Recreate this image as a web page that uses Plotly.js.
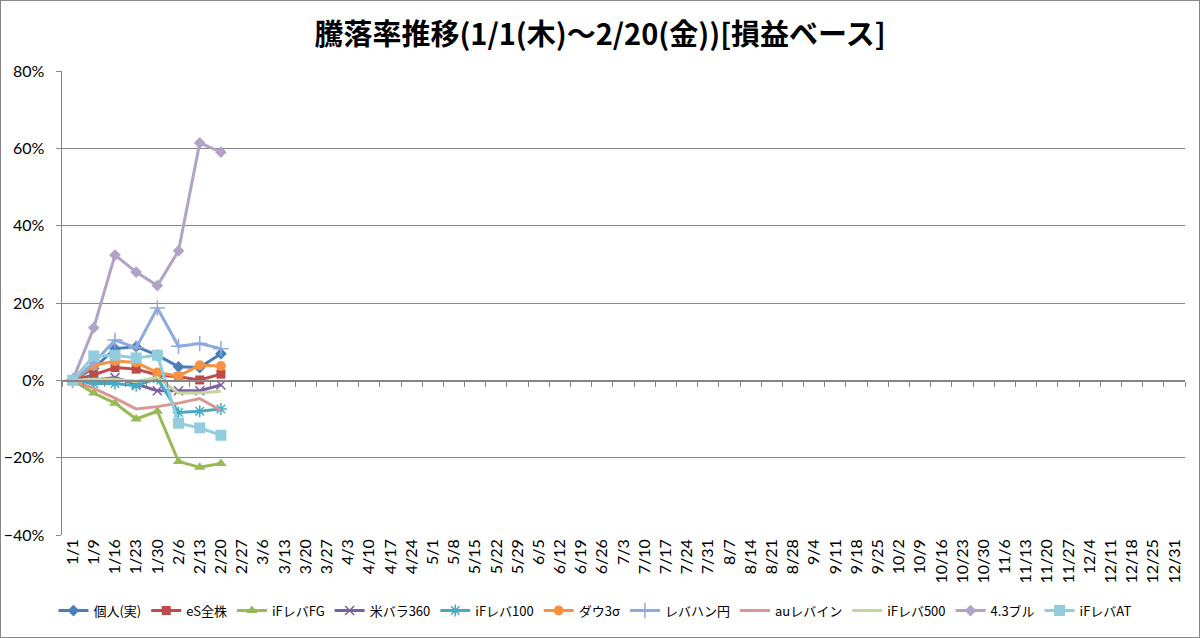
<!DOCTYPE html>
<html>
<head>
<meta charset="utf-8">
<script src="https://cdn.plot.ly/plotly-3.0.1.min.js"></script>
<style>
html,body{margin:0;padding:0;background:#fff;}
#wrap{position:relative;width:1200px;height:638px;}
#chart{width:1200px;height:638px;}
#frame{position:absolute;left:0;top:0;width:1198px;height:636px;border:1px solid #868686;pointer-events:none;}
</style>
</head>
<body>
<div id="wrap"><div id="chart"></div><div id="frame"></div></div>
<script>
const categories = ["1/1","1/9","1/16","1/23","1/30","2/6","2/13","2/20","2/27","3/6","3/13","3/20","3/27","4/3","4/10","4/17","4/24","5/1","5/8","5/15","5/22","5/29","6/5","6/12","6/19","6/26","7/3","7/10","7/17","7/24","7/31","8/7","8/14","8/21","8/28","9/4","9/11","9/18","9/25","10/2","10/9","10/16","10/23","10/30","11/6","11/13","11/20","11/27","12/4","12/11","12/18","12/25","12/31"];

const seriesNames = ["個人(実)","eS全株","iFレバFG","米バラ360","iFレバ100","ダウ3σ","レバハン円","auレバイン","iFレバ500","4.3ブル","iFレバAT"];

const kojin     = [0, 3.1, 8.2, 8.7, 6.5, 3.5, 3.3, 6.9];
const esZenkabu = [0, 1.4, 3.3, 2.9, 1.4, 0.9, 0.1, 1.6];
const ifFG      = [0, -3.3, -5.9, -10.0, -8.0, -21.0, -22.5, -21.5];
const beibara   = [0, 0.1, 0.7, -1.0, -2.7, -2.7, -2.7, -1.2];
const if100     = [0, -0.8, -0.8, -1.4, 0.5, -8.3, -8.0, -7.4];
const dow3s     = [0, 3.8, 5.0, 4.6, 2.0, 1.1, 3.9, 3.7];
const rebahan   = [0, 4.5, 10.4, 8.4, 18.7, 8.8, 9.5, 8.2];
const auRebain  = [0, -2.1, -4.6, -7.4, -6.8, -5.9, -4.7, -7.8];
const if500     = [0, 0.3, 0.3, -0.3, 0.8, -3.3, -3.3, -2.8];
const bull43    = [0, 13.6, 32.4, 28.0, 24.5, 33.5, 61.4, 59.0];
const ifAT      = [0, 6.3, 6.5, 5.8, 6.5, -11.1, -12.3, -14.2];

const seriesValues = [kojin, esZenkabu, ifFG, beibara, if100, dow3s, rebahan, auRebain, if500, bull43, ifAT];

const styles = [
  {color:"#4A7EBB", symbol:"diamond", size:9},
  {color:"#BE4B48", symbol:"square", size:9},
  {color:"#98B954", symbol:"triangle-up", size:10},
  {color:"#7D60A0", symbol:"x-thin-open", size:9},
  {color:"#46AAC5", symbol:"asterisk-open", size:10},
  {color:"#F69240", symbol:"circle", size:10},
  {color:"#8FAADC", symbol:"cross-thin-open", size:11},
  {color:"#DA9694", symbol:null, size:0},
  {color:"#C3D69B", symbol:null, size:0},
  {color:"#B3A2C7", symbol:"diamond", size:9},
  {color:"#93CDDD", symbol:"square", size:11}
];

const traces = [];
// helper trace for the zero-line category axis
traces.push({
  x: categories, y: categories.map(() => null),
  xaxis: "x2", yaxis: "y", mode: "lines", showlegend: false, hoverinfo: "skip"
});
seriesValues.forEach((vals, i) => {
  const st = styles[i];
  const t = {
    name: seriesNames[i],
    x: categories.slice(0, vals.length),
    y: vals,
    type: "scatter",
    line: {color: st.color, width: 3},
    mode: st.symbol ? "lines+markers" : "lines"
  };
  if (st.symbol) {
    const open = st.symbol.indexOf("open") >= 0;
    t.marker = {symbol: st.symbol, size: st.size, color: st.color,
                line: {color: st.color, width: open ? 1.5 : 0}};
  }
  traces.push(t);
});

const fontFam = "Lato, 'Noto Sans CJK JP', sans-serif";
const layout = {
  width: 1200, height: 638,
  margin: {l: 62, r: 15, t: 71, b: 100},
  paper_bgcolor: "#fff", plot_bgcolor: "#fff",
  title: {text: "<b>騰落率推移(1/1(木)～2/20(金))[損益ベース]</b>",
          font: {family: "'Noto Sans CJK JP', sans-serif", size: 29, color: "#000"},
          x: 0.5, xanchor: "center", y: 1 - 35/638, yanchor: "middle", xref: "container"},
  xaxis: {
    type: "category", categoryorder: "array", categoryarray: categories,
    range: [-0.5, categories.length - 0.5],
    tickangle: -90, showgrid: false, showline: false, ticks: "", zeroline: false,
    tickfont: {family: fontFam, size: 16, color: "#000"}, fixedrange: true
  },
  xaxis2: {
    type: "category", categoryorder: "array", categoryarray: categories,
    range: [-0.5, categories.length - 0.5],
    overlaying: "x", anchor: "free", position: 40/120, side: "bottom",
    showline: true, linecolor: "#868686", linewidth: 1.5,
    ticks: "outside", ticklen: 5, tickcolor: "#868686", tickson: "boundaries",
    showticklabels: false, showgrid: false, zeroline: false
  },
  yaxis: {
    range: [-40, 80], dtick: 20, ticksuffix: "%",
    showgrid: true, gridcolor: "#868686", gridwidth: 1,
    showline: true, linecolor: "#868686", linewidth: 1.5,
    ticks: "outside", ticklen: 5, tickcolor: "#868686",
    zeroline: false, ticklabelstandoff: 8,
    tickfont: {family: fontFam, size: 16, color: "#000"}
  },
  legend: {
    orientation: "h", x: 0.475, xanchor: "center", y: -0.163, yanchor: "middle",
    font: {family: "'Noto Sans CJK JP', sans-serif", size: 13, color: "#000"},
    itemwidth: 30, tracegroupgap: 0
  },
  showlegend: true
};

Plotly.newPlot("chart", traces, layout, {displayModeBar: false, staticPlot: true});
</script>
</body>
</html>
